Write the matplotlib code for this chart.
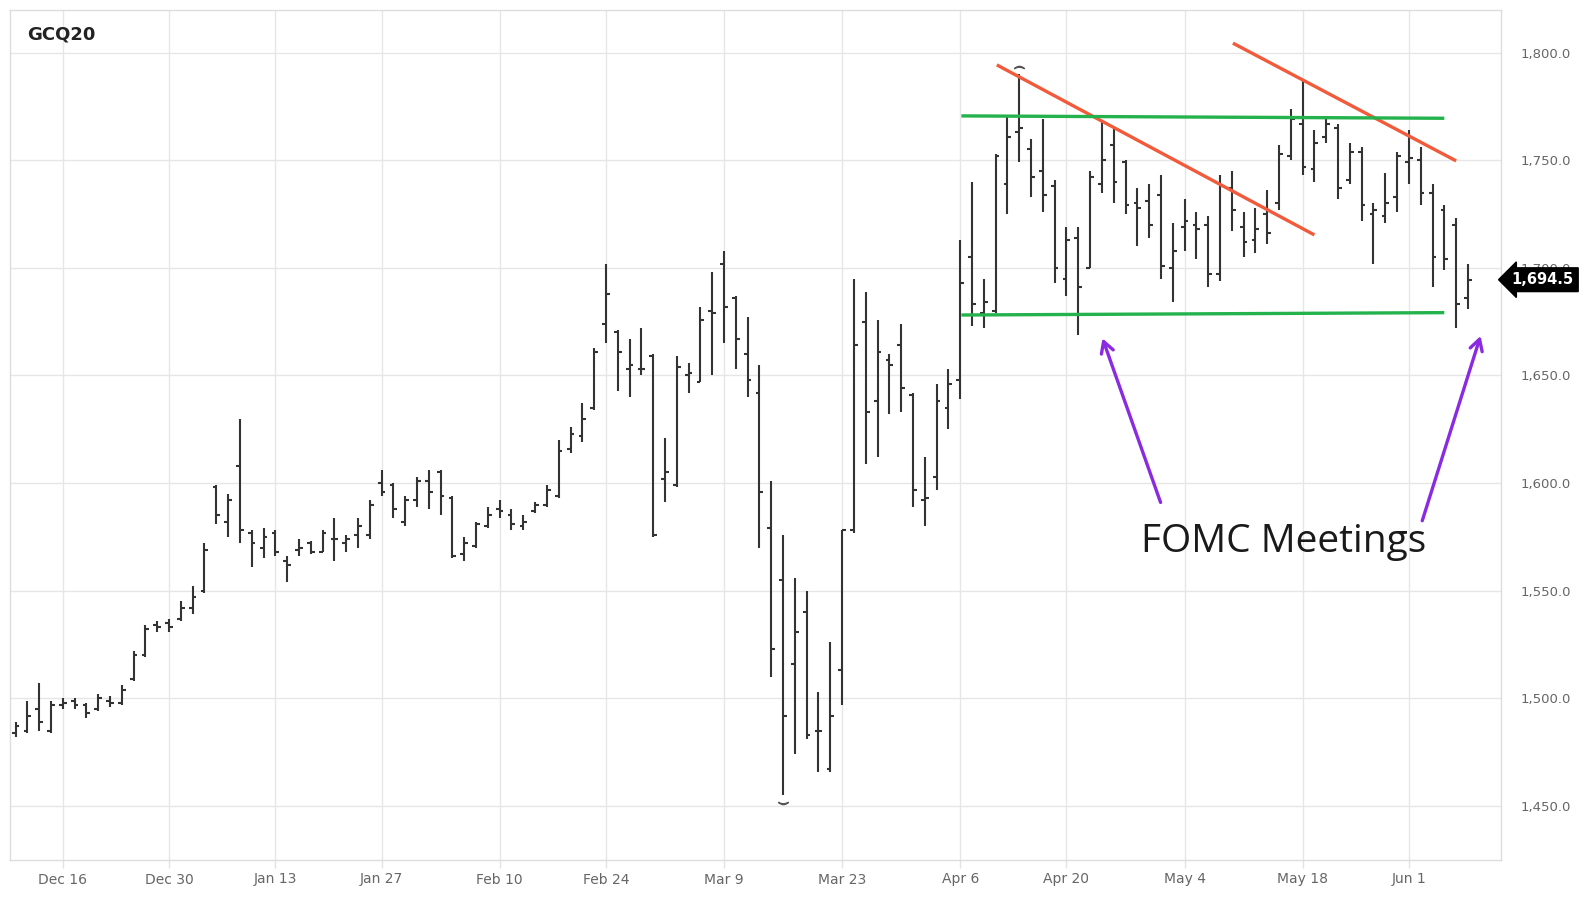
import numpy as np
import pandas as pd
import matplotlib
matplotlib.use("Agg")
import matplotlib.pyplot as plt
import matplotlib.transforms as mtransforms

# ---- data: GCQ20 daily OHLC ----
holidays = ["2019-12-25", "2020-01-01", "2020-01-20", "2020-02-17", "2020-04-10", "2020-05-25"]
dates = pd.bdate_range("2019-12-10", "2020-06-08")
dates = dates[~dates.isin(pd.to_datetime(holidays))]

opens = [1484, 1485, 1495, 1485, 1497, 1499, 1497, 1495, 1499, 1498,
         1509, 1520, 1534, 1535, 1537, 1542, 1550, 1598, 1582, 1608,
         1577, 1570, 1577, 1564, 1569, 1572, 1568, 1574, 1572, 1576,
         1576, 1600, 1599, 1582, 1592, 1601, 1605, 1593, 1567, 1571,
         1580, 1588, 1585, 1580, 1587, 1590, 1594, 1616, 1622, 1635,
         1674, 1670, 1653, 1653, 1659, 1602, 1599, 1650, 1647, 1680,
         1702, 1686, 1660, 1642, 1579, 1555, 1516, 1540, 1485, 1467,
         1513, 1578, 1675, 1638, 1657, 1664, 1641, 1592, 1603, 1635,
         1648, 1705, 1679, 1680, 1739, 1763, 1755, 1745, 1738, 1695,
         1714, 1700, 1739, 1757, 1749, 1730, 1731, 1734, 1700, 1719,
         1720, 1720, 1697, 1737, 1719, 1713, 1725, 1730, 1752, 1767,
         1746, 1761, 1765, 1741, 1754, 1725, 1724, 1733, 1749, 1750,
         1735, 1727, 1720, 1686]
highs = [1489, 1499, 1507, 1499, 1500, 1500, 1498, 1502, 1501, 1506,
         1522, 1534, 1536, 1537, 1545, 1552, 1572, 1599, 1595, 1630,
         1578, 1579, 1578, 1566, 1574, 1573, 1578, 1584, 1576, 1584,
         1592, 1606, 1600, 1594, 1603, 1606, 1606, 1594, 1575, 1582,
         1589, 1592, 1588, 1585, 1591, 1599, 1620, 1626, 1637, 1663,
         1702, 1671, 1667, 1672, 1660, 1621, 1659, 1656, 1682, 1698,
         1708, 1687, 1677, 1655, 1601, 1576, 1556, 1550, 1503, 1526,
         1578, 1695, 1689, 1676, 1660, 1674, 1642, 1612, 1646, 1653,
         1713, 1740, 1695, 1753, 1770, 1790, 1760, 1769, 1741, 1719,
         1719, 1745, 1768, 1765, 1750, 1737, 1739, 1743, 1721, 1732,
         1726, 1724, 1743, 1745, 1726, 1728, 1736, 1757, 1774, 1787,
         1764, 1769, 1767, 1758, 1756, 1730, 1744, 1754, 1764, 1756,
         1739, 1729, 1723, 1702]
lows = [1482, 1484, 1485, 1484, 1495, 1495, 1491, 1494, 1496, 1497,
        1508, 1519, 1531, 1531, 1536, 1539, 1549, 1581, 1575, 1572,
        1561, 1565, 1566, 1554, 1566, 1567, 1568, 1564, 1568, 1570,
        1574, 1594, 1584, 1580, 1589, 1588, 1585, 1565, 1564, 1570,
        1579, 1584, 1578, 1578, 1586, 1589, 1593, 1614, 1619, 1634,
        1665, 1643, 1640, 1650, 1575, 1591, 1598, 1642, 1647, 1650,
        1665, 1653, 1640, 1570, 1510, 1455, 1474, 1481, 1466, 1466,
        1497, 1577, 1609, 1612, 1632, 1633, 1589, 1580, 1597, 1625,
        1639, 1673, 1672, 1679, 1725, 1749, 1733, 1726, 1693, 1687,
        1669, 1700, 1735, 1730, 1725, 1710, 1714, 1695, 1684, 1708,
        1704, 1691, 1694, 1717, 1705, 1707, 1711, 1727, 1750, 1743,
        1740, 1758, 1732, 1739, 1722, 1702, 1721, 1726, 1739, 1729,
        1691, 1699, 1672, 1681]
closes = [1487, 1492, 1489, 1497, 1498, 1497, 1493, 1500, 1498, 1504,
          1520, 1532, 1533, 1533, 1542, 1547, 1569, 1585, 1592, 1578,
          1572, 1575, 1568, 1562, 1570, 1568, 1577, 1574, 1574, 1580,
          1590, 1596, 1588, 1592, 1601, 1596, 1594, 1566, 1572, 1581,
          1585, 1587, 1581, 1582, 1590, 1597, 1615, 1623, 1630, 1661,
          1688, 1661, 1655, 1653, 1576, 1605, 1654, 1651, 1676, 1679,
          1682, 1667, 1648, 1596, 1523, 1492, 1531, 1483, 1485, 1492,
          1578, 1664, 1633, 1661, 1655, 1644, 1597, 1593, 1638, 1646,
          1693, 1683, 1684, 1752, 1761, 1765, 1742, 1734, 1700, 1713,
          1691, 1742, 1750, 1740, 1729, 1728, 1720, 1701, 1708, 1722,
          1718, 1697, 1738, 1727, 1712, 1718, 1716, 1753, 1769, 1747,
          1758, 1767, 1737, 1754, 1729, 1727, 1730, 1752, 1751, 1735,
          1705, 1704, 1683, 1694.5]

tick_dates = ["2019-12-16", "2019-12-30", "2020-01-13", "2020-01-27", "2020-02-10",
              "2020-02-24", "2020-03-09", "2020-03-23", "2020-04-06", "2020-04-20",
              "2020-05-04", "2020-05-18", "2020-06-01"]
price_ticks = [1450, 1500, 1550, 1600, 1650, 1700, 1750, 1800]

symbol = "GCQ20"
last_price = closes[-1]

# hand-drawn annotation lines (index, price) as on the original
red_lines = [((83.1, 1794.3), (110.0, 1715.3)), ((103.1, 1804.4), (122.0, 1749.7))]
green_lines = [((80.1, 1770.6), (121.0, 1769.5)), ((80.1, 1678.1), (121.0, 1679.2))]

# ---- figure ----
x = np.arange(len(dates))
assert len(x) == len(opens) == len(highs) == len(lows) == len(closes)

fig = plt.figure(figsize=(15.9, 9.02), dpi=100)
ax = fig.add_axes([10 / 1590, 1 - 860 / 902, 1491 / 1590, 850 / 902])

bar_col = "#333333"
ax.vlines(x, lows, highs, color=bar_col, lw=1.5, zorder=3)
ax.hlines(opens, x - 0.32, x, color=bar_col, lw=1.5, zorder=3)
ax.hlines(closes, x, x + 0.32, color=bar_col, lw=1.5, zorder=3)

# small markers at the extreme low / high
i_lo = int(np.argmin(lows))
i_hi = int(np.argmax(highs))
ax.plot(i_lo, lows[i_lo] - 3.5, marker=r"$\smile$", ms=7, color="#555555", zorder=3)
ax.plot(i_hi, highs[i_hi] + 3.5, marker=r"$\frown$", ms=7, color="#555555", zorder=3)

for (x0, y0), (x1, y1) in red_lines:
    ax.plot([x0, x1], [y0, y1], color="#f15a3a", lw=2.4, solid_capstyle="butt", zorder=4)
for (x0, y0), (x1, y1) in green_lines:
    ax.plot([x0, x1], [y0, y1], color="#23b24b", lw=2.4, solid_capstyle="butt", zorder=4)

purple = "#8a2be2"
ax.annotate("", xy=(91.97, 1668.5), xytext=(97.05, 1589.8),
            arrowprops=dict(arrowstyle="->,head_length=0.8,head_width=0.45", color=purple, lw=2.4))
ax.annotate("", xy=(124.14, 1669.6), xytext=(119.06, 1581.3),
            arrowprops=dict(arrowstyle="->,head_length=0.8,head_width=0.45", color=purple, lw=2.4),
            annotation_clip=False)
ax.text(107.4, 1568, "FOMC Meetings", fontsize=28, family=["Open Sans", "DejaVu Sans"],
        color="#1a1a1a", ha="center", va="baseline", zorder=5)

# axes
ax.set_xlim(-0.47, 125.8)
ax.set_ylim(1424.9, 1819.8)
tick_pos = [dates.get_loc(pd.Timestamp(d)) for d in tick_dates]
ax.set_xticks(tick_pos)
ax.set_xticklabels([pd.Timestamp(d).strftime("%b %-d") for d in tick_dates])
ax.set_yticks(price_ticks)
ax.set_yticklabels([f"{p:,.1f}" for p in price_ticks])
ax.yaxis.tick_right()
ax.tick_params(axis="y", length=0, pad=14, labelsize=9.5, labelcolor="#666666")
ax.tick_params(axis="x", length=6, width=1, color="#e3e3e3", pad=3, labelsize=10, labelcolor="#666666")
ax.grid(True, color="#e6e6e6", lw=1, zorder=0)
ax.set_axisbelow(True)
for s in ax.spines.values():
    s.set_color("#dddddd")
    s.set_linewidth(1)

fig.text(27 / 1590, 1 - 35 / 902, symbol, fontsize=13, fontweight="bold", color="#222222",
         ha="left", va="center")

# last price tag (covers part of the 1,700.0 label, as in the original)
trans = mtransforms.blended_transform_factory(ax.transAxes, ax.transData)
ax.text(1.028, last_price, f"{last_price:,.1f}", transform=trans, fontsize=10.5, fontweight="bold",
        color="white", ha="center", va="center", zorder=10, clip_on=False,
        bbox=dict(boxstyle="larrow,pad=0.3", fc="black", ec="black"))

fig.savefig("out.png", dpi=100)
